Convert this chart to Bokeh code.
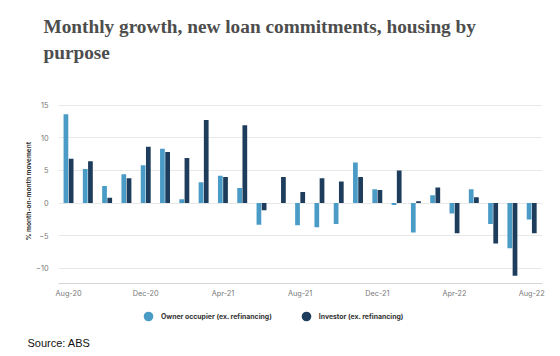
from bokeh.plotting import figure
from bokeh.layouts import column
from bokeh.models import ColumnDataSource, FixedTicker, Range1d, Legend, LegendItem, Title
from bokeh.embed import file_html
from bokeh.resources import INLINE

# ---- data ----
months = ["Aug-20", "Sep-20", "Oct-20", "Nov-20", "Dec-20", "Jan-21", "Feb-21",
          "Mar-21", "Apr-21", "May-21", "Jun-21", "Jul-21", "Aug-21", "Sep-21",
          "Oct-21", "Nov-21", "Dec-21", "Jan-22", "Feb-22", "Mar-22", "Apr-22",
          "May-22", "Jun-22", "Jul-22", "Aug-22"]
owner_occupier = [13.6, 5.2, 2.6, 4.4, 5.8, 8.3, 0.6, 3.2, 4.2, 2.3, -3.3, 0.0,
                  -3.4, -3.7, -3.2, 6.2, 2.1, -0.3, -4.5, 1.2, -1.6, 2.1, -3.2,
                  -6.9, -2.5]
investor = [6.8, 6.4, 0.8, 3.8, 8.6, 7.8, 6.9, 12.7, 4.0, 11.9, -1.1, 4.0,
            1.7, 3.8, 3.3, 4.0, 2.0, 5.0, 0.3, 2.4, -4.6, 0.9, -6.2, -11.1, -4.6]
x_tick_labels = ["Aug-20", "Dec-20", "Apr-21", "Aug-21", "Dec-21", "Apr-22", "Aug-22"]
y_ticks = [-10, -5, 0, 5, 10, 15]
series_names = ["Owner occupier (ex. refinancing)", "Investor (ex. refinancing)"]
colors = ["#4a9cc6", "#1e3d5c"]
title_text = "Monthly growth, new loan commitments, housing by\npurpose"
source_note = "Source: ABS"

W = 552

# ---- main chart ----
idx = list(range(len(months)))
src = ColumnDataSource(dict(
    x_oo=[i - 0.135 for i in idx],
    x_inv=[i + 0.135 for i in idx],
    oo=owner_occupier,
    inv=investor,
))

p = figure(width=W, height=300, output_backend="svg", toolbar_location=None,
           x_range=Range1d(-0.52, 24.56), y_range=Range1d(-12.3, 16),
           min_border_left=58, min_border_right=10, min_border_top=98,
           min_border_bottom=15)
p.outline_line_color = None

# spacer between the title block and the plot frame (added first = nearest the frame)
p.add_layout(Title(text=" ", text_font_size="1px", standoff=31), "above")
p.add_layout(Title(text=title_text, align="left", offset=-15,
                   vertical_align="top",
                   text_font="Liberation Serif", text_font_size="19.3px",
                   text_font_style="bold", text_color="#4d4d4d",
                   text_line_height=1.26, standoff=0), "above")

p.vbar(x="x_oo", top="oo", bottom=0, width=0.245, source=src,
       fill_color=colors[0], line_color=None)
p.vbar(x="x_inv", top="inv", bottom=0, width=0.245, source=src,
       fill_color=colors[1], line_color=None)

p.xaxis.ticker = FixedTicker(ticks=[months.index(m) for m in x_tick_labels])
p.xaxis.major_label_overrides = {months.index(m): m for m in x_tick_labels}
p.xaxis.axis_line_color = "#d6d6d6"
p.xaxis.major_tick_line_color = None
p.xaxis.major_tick_out = 0
p.xaxis.major_tick_in = 0
p.xaxis.minor_tick_line_color = None
p.xaxis.major_label_text_font = "Inter"
p.xaxis.major_label_text_font_size = "7.3px"
p.xaxis.major_label_text_color = "#777777"
p.xaxis.major_label_standoff = 5

p.yaxis.ticker = FixedTicker(ticks=y_ticks)
p.yaxis.axis_line_color = None
p.yaxis.major_tick_line_color = None
p.yaxis.major_tick_out = 0
p.yaxis.major_tick_in = 0
p.yaxis.minor_tick_line_color = None
p.yaxis.major_label_text_font = "Inter"
p.yaxis.major_label_text_font_size = "7.3px"
p.yaxis.major_label_text_color = "#777777"
p.yaxis.major_label_standoff = 10
p.yaxis.axis_label = "% month-on-month movement"
p.yaxis.axis_label_text_font = "Inter"
p.yaxis.axis_label_text_font_size = "6.5px"
p.yaxis.axis_label_text_font_style = "bold"
p.yaxis.axis_label_text_color = "#333333"
p.yaxis.axis_label_standoff = 0

p.xgrid.visible = False
p.ygrid.ticker = FixedTicker(ticks=y_ticks)
p.ygrid.grid_line_color = "#e8e8e8"

# ---- footer (legend + source) ----
foot = figure(width=W, height=48, output_backend="svg", toolbar_location=None,
              x_range=Range1d(0, 1), y_range=Range1d(0, 1),
              x_axis_location=None, y_axis_location=None,
              min_border_left=0, min_border_right=0, min_border_top=0,
              min_border_bottom=0)
foot.outline_line_color = None
foot.xgrid.visible = False
foot.ygrid.visible = False

nan = float("nan")
leg_src = ColumnDataSource(dict(x=[nan], y=[nan]))
r1 = foot.scatter(x="x", y="y", source=leg_src, marker="circle", size=9,
                  fill_color=colors[0], line_color=None)
r2 = foot.scatter(x="x", y="y", source=leg_src, marker="circle", size=9,
                  fill_color=colors[1], line_color=None)
legend = Legend(items=[LegendItem(label=series_names[0], renderers=[r1]),
                       LegendItem(label=series_names[1], renderers=[r2])],
                orientation="horizontal", location=(78, 6),
                border_line_color=None, background_fill_alpha=0,
                label_text_font="Inter", label_text_font_size="6.9px",
                label_text_font_style="bold", label_text_color="#333333",
                glyph_width=24, glyph_height=24, spacing=22, padding=0,
                margin=0, label_standoff=1, label_height=24)
foot.add_layout(legend, "center")
foot.add_layout(Title(text=source_note, align="left", offset=-31,
                      text_font="Liberation Sans", text_font_size="11px",
                      text_font_style="normal", text_color="#111111",
                      standoff=0), "below")

layout = column(p, foot, spacing=0)
open("out.html", "w").write(file_html(layout, INLINE))
